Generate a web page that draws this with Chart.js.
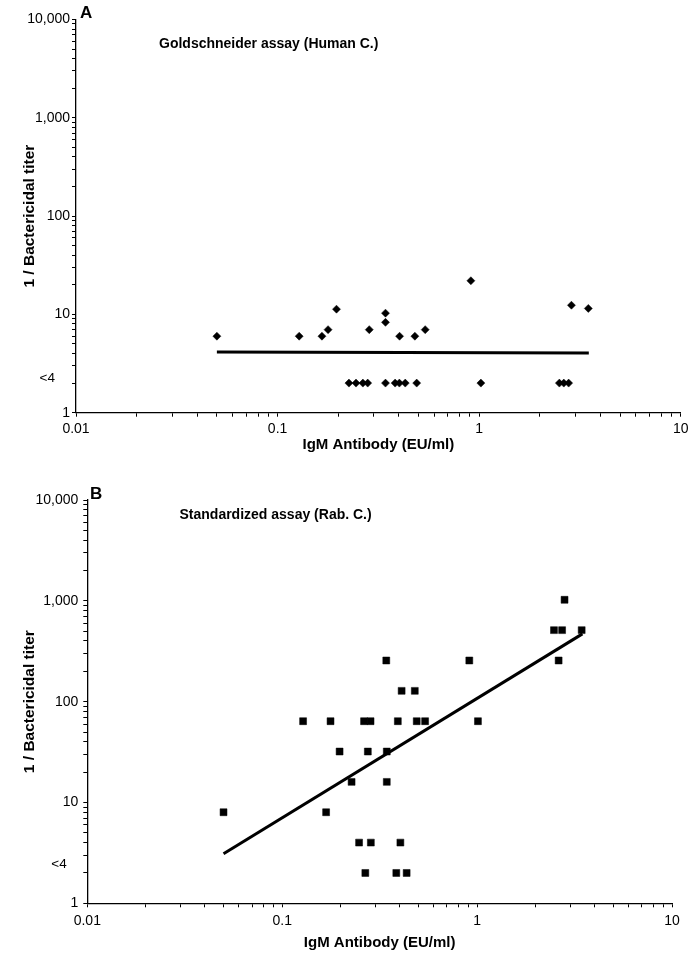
<!DOCTYPE html>
<html><head><meta charset="utf-8">
<script src="https://cdn.jsdelivr.net/npm/chart.js@4"></script>
<style>
html,body{margin:0;padding:0;background:#fff;}
#wrap{position:relative;width:693px;height:957px;overflow:hidden;background:#fff}
.box{position:absolute;left:0;width:693px}
</style></head><body>
<div id="wrap">
<div class="box" style="top:0;height:475px"><canvas id="cA"></canvas></div>
<div class="box" style="top:475px;height:482px"><canvas id="cB"></canvas></div>
</div>
<script>
// ---- text ----
const panelLetters = ['A', 'B'];
const panelTitles = ['Goldschneider assay (Human C.)', 'Standardized assay (Rab. C.)'];
const xAxisTitle = 'IgM Antibody (EU/ml)';
const yAxisTitle = '1 / Bactericidal titer';
const xMajorTicks = [0.01, 0.1, 1, 10];
const xTickLabels = ['0.01', '0.1', '1', '10'];
const yMajorTicks = [1, 10, 100, 1000, 10000];
const yTickLabels = ['1', '10', '100', '1,000', '10,000'];
const belowLimitLabel = '<4';
const belowLimitLabelAt = [2.25, 2.44];

// ---- Panel A: Goldschneider assay (Human C.) ----
const igmA = [0.05, 0.128, 0.166, 0.178, 0.196, 0.285, 0.343, 0.343, 0.403, 0.48, 0.54, 0.91, 2.87, 3.48,
              0.226, 0.245, 0.265, 0.28, 0.343, 0.383, 0.402, 0.43, 0.49, 1.02, 2.5, 2.63, 2.78];
const titerA = [6, 6, 6, 7, 11.3, 7, 10.3, 8.3, 6, 6, 7, 22, 12.4, 11.5,
                2, 2, 2, 2, 2, 2, 2, 2, 2, 2, 2, 2, 2];
const fitAx = [0.05, 3.5];
const fitAy = [4.15, 4.05];

// ---- Panel B: Standardized assay (Rab. C.) ----
const igmB = [0.05, 0.128, 0.177, 0.197, 0.168, 0.227, 0.248, 0.267, 0.263, 0.284, 0.275, 0.285, 0.342, 0.344, 0.344,
              0.392, 0.385, 0.404, 0.41, 0.435, 0.479, 0.49, 0.541, 0.912, 1.01, 2.48, 2.73, 2.62, 2.81, 3.44];
const titerB = [8, 64, 64, 32, 8, 16, 4, 2, 64, 64, 32, 4, 256, 32, 16,
                64, 2, 4, 128, 2, 128, 64, 64, 256, 64, 512, 512, 256, 1024, 512];
const fitBx = [0.05, 3.47];
const fitBy = [3.1, 470];

const FONT = "'Liberation Sans', Arial, Helvetica, sans-serif";

function logTicks(eMin, eMax) {
  const out = [];
  for (let e = eMin; e < eMax; e++) {
    for (let k = 1; k <= 9; k++) out.push(Number((k * Math.pow(10, e)).toPrecision(6)));
  }
  out.push(Number(Math.pow(10, eMax).toPrecision(6)));
  return out.map(v => ({ value: v }));
}
function labelFor(v, majors, labels) {
  for (let i = 0; i < majors.length; i++) {
    if (Math.abs(v - majors[i]) / majors[i] < 1e-6) return labels[i];
  }
  return '';
}

const panelText = {
  id: 'panelText',
  afterDraw(chart, args, o) {
    const ctx = chart.ctx;
    ctx.save();
    ctx.fillStyle = '#000';
    ctx.textBaseline = 'alphabetic';
    ctx.textAlign = 'left';
    ctx.font = 'bold 17px ' + FONT;
    ctx.fillText(o.letter, o.letterX, o.letterY);
    ctx.font = 'bold 14px ' + FONT;
    ctx.fillText(o.title, o.titleX, o.titleY);
    ctx.font = '13.5px ' + FONT;
    ctx.textAlign = 'right';
    ctx.textBaseline = 'middle';
    ctx.fillText(o.less, o.lessX, chart.scales.y.getPixelForValue(o.lessAt));
    ctx.restore();
  }
};

function makeChart(id, c) {
  return new Chart(document.getElementById(id), {
    type: 'scatter',
    data: {
      datasets: [
        {
          data: c.xs.map((x, i) => ({ x, y: c.ys[i] })),
          pointStyle: c.style, pointRadius: c.r, pointHoverRadius: c.r,
          backgroundColor: '#000', borderColor: '#000', borderWidth: c.bw
        },
        {
          data: c.fx.map((x, i) => ({ x, y: c.fy[i] })),
          showLine: true, borderColor: '#000', borderWidth: 3, pointRadius: 0, fill: false, tension: 0
        }
      ]
    },
    options: {
      responsive: true, maintainAspectRatio: false, animation: false, events: [],
      layout: { padding: { top: c.padTop, right: c.padRight, left: 0, bottom: 0 } },
      plugins: {
        legend: { display: false }, tooltip: { enabled: false },
        panelText: c.text
      },
      scales: {
        x: {
          type: 'logarithmic', min: 0.01, max: 10, position: 'bottom',
          afterBuildTicks: s => { s.ticks = logTicks(-2, 1); },
          afterFit: s => { s.height = c.xH; },
          ticks: {
            autoSkip: false, maxRotation: 0, minRotation: 0, padding: c.xTickPad, color: '#000',
            font: { family: FONT, size: 14 },
            callback: v => labelFor(v, xMajorTicks, xTickLabels)
          },
          grid: { display: true, drawOnChartArea: false, drawTicks: true, tickLength: 4, tickColor: '#000', tickWidth: 1 },
          border: { display: true, color: '#000', width: 1.3 },
          title: { display: true, text: xAxisTitle, color: '#000',
                   font: { family: FONT, size: 15, weight: 'bold' }, padding: { top: 0, bottom: c.xTitlePad } }
        },
        y: {
          type: 'logarithmic', min: 1, max: 10000, position: 'left',
          afterBuildTicks: s => { s.ticks = logTicks(0, 4); },
          afterFit: s => { s.width = c.yW; },
          ticks: {
            autoSkip: false, padding: c.yTickPad, color: '#000',
            font: { family: FONT, size: 14 },
            callback: v => labelFor(v, yMajorTicks, yTickLabels)
          },
          grid: { display: true, drawOnChartArea: false, drawTicks: true, tickLength: 4, tickColor: '#000', tickWidth: 1 },
          border: { display: true, color: '#000', width: 1.3 },
          title: { display: true, text: yAxisTitle, color: '#000',
                   font: { family: FONT, size: 15.5, weight: 'bold' }, padding: { top: 20, bottom: 0 } }
        }
      }
    },
    plugins: [panelText]
  });
}

makeChart('cA', {
  xs: igmA, ys: titerA, fx: fitAx, fy: fitAy, style: 'rectRot', r: 4, bw: 0.5,
  padTop: 19.5, padRight: 10, yW: 76, xH: 62.3, xTickPad: 4.5, yTickPad: 2, xTitlePad: 21,
  text: { letter: panelLetters[0], letterX: 80, letterY: 18, title: panelTitles[0], titleX: 159, titleY: 48,
          less: belowLimitLabel, lessX: 55, lessAt: belowLimitLabelAt[0] }
});
makeChart('cB', {
  xs: igmB, ys: titerB, fx: fitBx, fy: fitBy, style: 'rect', r: 4.9, bw: 0.5,
  padTop: 25, padRight: 21, yW: 87.3, xH: 53.7, xTickPad: 5, yTickPad: 5, xTitlePad: 5,
  text: { letter: panelLetters[1], letterX: 90, letterY: 24, title: panelTitles[1], titleX: 179.5, titleY: 44,
          less: belowLimitLabel, lessX: 66.7, lessAt: belowLimitLabelAt[1] }
});
</script>
</body></html>
